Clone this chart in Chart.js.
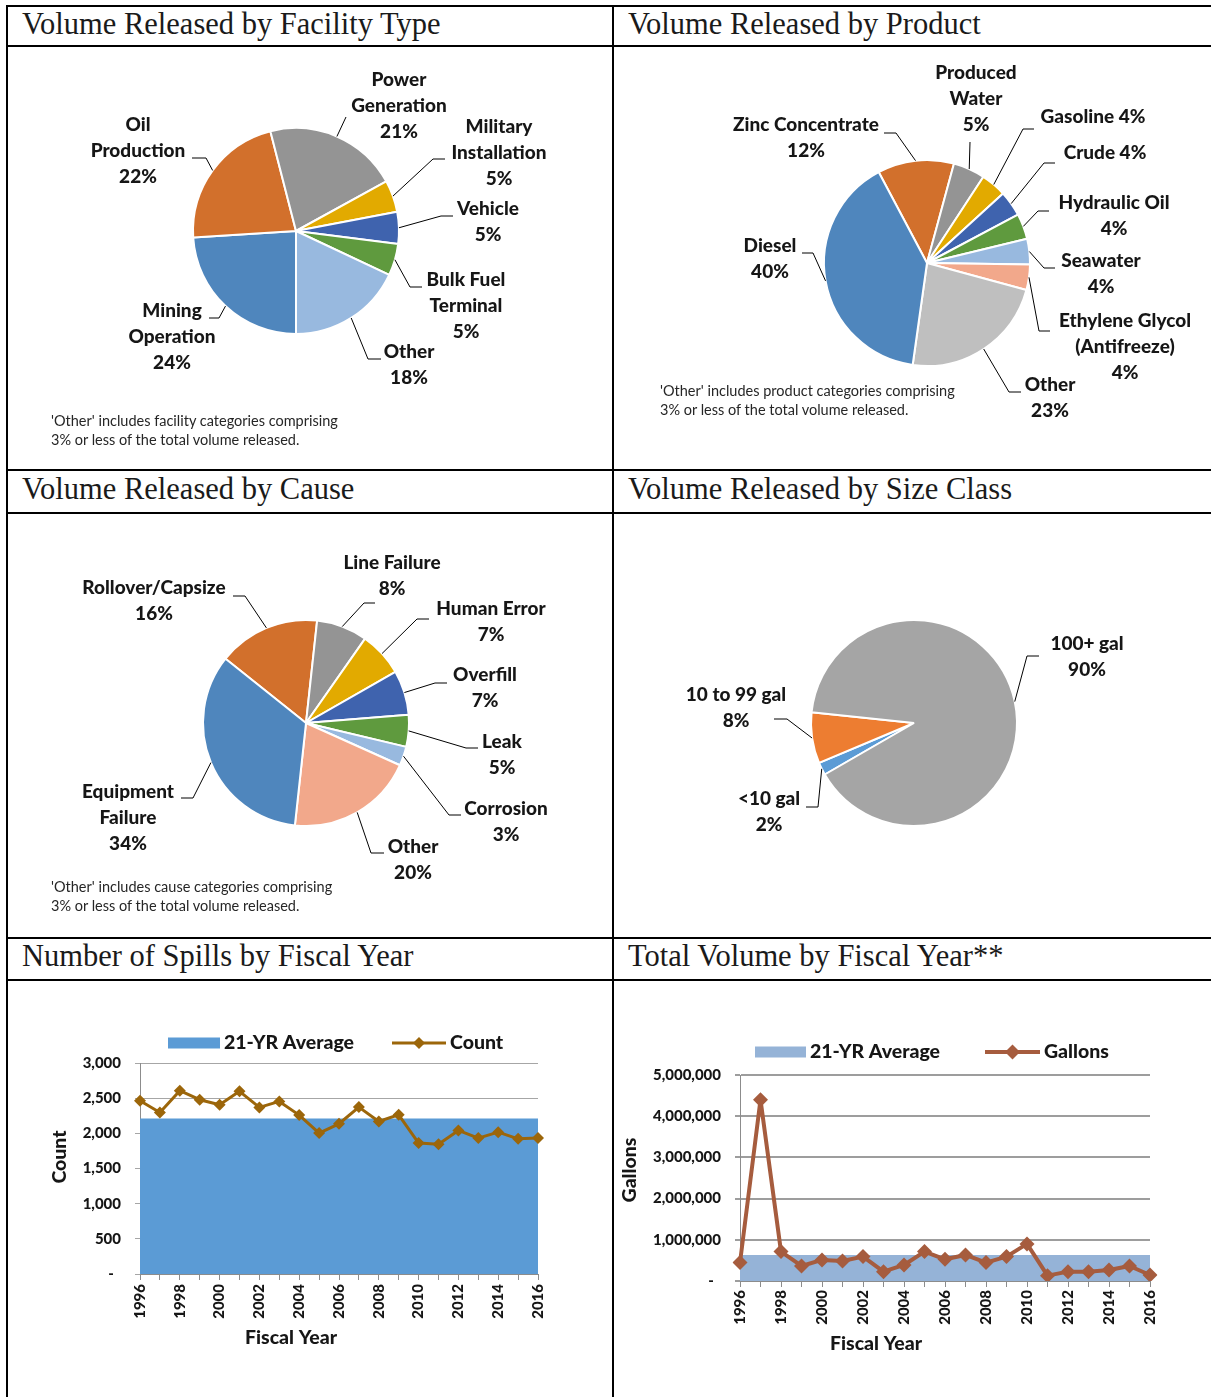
<!DOCTYPE html>
<html>
<head>
<meta charset="utf-8">
<title>Spill Summary Charts</title>
<script src="https://cdn.jsdelivr.net/npm/chart.js@4.4.1/dist/chart.umd.min.js"></script>
<style>
html,body{margin:0;padding:0;background:#fff;}
body{position:relative;width:1211px;height:1397px;overflow:hidden;}
.ln{position:absolute;background:#000;z-index:3;}
.ttl{position:absolute;font-family:'Liberation Serif',serif;font-size:30.5px;line-height:30px;color:#1a1a1a;white-space:nowrap;}
.note{position:absolute;font-family:Lato,sans-serif;font-size:14.5px;line-height:19px;color:#262626;white-space:nowrap;z-index:2;}
canvas{position:absolute;}
</style>
</head>
<body>
<canvas id="pieFacility" style="left:8px;top:47px" width="604" height="422"></canvas>
<canvas id="pieProduct" style="left:614px;top:47px" width="597" height="422"></canvas>
<canvas id="pieCause" style="left:8px;top:514px" width="604" height="423"></canvas>
<canvas id="pieSize" style="left:614px;top:514px" width="597" height="423"></canvas>
<canvas id="lineSpills" style="left:8px;top:981px" width="604" height="416"></canvas>
<canvas id="lineVolume" style="left:614px;top:981px" width="597" height="416"></canvas>

<div class="ln" style="left:6px;top:5px;width:1205px;height:2px"></div>
<div class="ln" style="left:6px;top:5px;width:2px;height:1392px"></div>
<div class="ln" style="left:612px;top:5px;width:2px;height:1392px"></div>
<div class="ln" style="left:6px;top:45px;width:1205px;height:2px"></div>
<div class="ln" style="left:6px;top:469px;width:1205px;height:2px"></div>
<div class="ln" style="left:6px;top:512px;width:1205px;height:2px"></div>
<div class="ln" style="left:6px;top:937px;width:1205px;height:2px"></div>
<div class="ln" style="left:6px;top:979px;width:1205px;height:2px"></div>

<div class="ttl" style="left:22px;top:9px">Volume Released by Facility Type</div>
<div class="ttl" style="left:628px;top:9px">Volume Released by Product</div>
<div class="ttl" style="left:22px;top:474px">Volume Released by Cause</div>
<div class="ttl" style="left:628px;top:474px">Volume Released by Size Class</div>
<div class="ttl" style="left:22px;top:941px">Number of Spills by Fiscal Year</div>
<div class="ttl" style="left:628px;top:941px">Total Volume by Fiscal Year**</div>

<div class="note" style="left:51px;top:411px">'Other' includes facility categories comprising<br>3% or less of the total volume released.</div>
<div class="note" style="left:660px;top:381px">'Other' includes product categories comprising<br>3% or less of the total volume released.</div>
<div class="note" style="left:51px;top:877px">'Other' includes cause categories comprising<br>3% or less of the total volume released.</div>

<script>
// ---------------- DATA ----------------
const facilityCategories = [['Mining','Operation'], ['Oil','Production'], ['Power','Generation'], ['Military','Installation'], 'Vehicle', ['Bulk Fuel','Terminal'], 'Other'];
const facilityShares = [24, 22, 21, 5, 5, 5, 18];

const productCategories = ['Zinc Concentrate', ['Produced','Water'], 'Gasoline', 'Crude', 'Hydraulic Oil', 'Seawater', ['Ethylene Glycol','(Antifreeze)'], 'Other', 'Diesel'];
const productShares = [12, 5, 4, 4, 4, 4, 4, 23, 40];

const causeCategories = ['Rollover/Capsize', 'Line Failure', 'Human Error', 'Overfill', 'Leak', 'Corrosion', 'Other', ['Equipment','Failure']];
const causeShares = [16, 8, 7, 7, 5, 3, 20, 34];

const sizeCategories = ['<10 gal', '10 to 99 gal', '100+ gal'];
const sizeShares = [2, 8, 90];

const fiscalYears = ['1996','1997','1998','1999','2000','2001','2002','2003','2004','2005','2006','2007','2008','2009','2010','2011','2012','2013','2014','2015','2016'];
const spillCounts = [2463, 2297, 2606, 2478, 2407, 2597, 2369, 2454, 2259, 2003, 2136, 2373, 2169, 2264, 1861, 1846, 2041, 1932, 2017, 1922, 1932];
const spillAverage = [2211, 2211, 2211, 2211, 2211, 2211, 2211, 2211, 2211, 2211, 2211, 2211, 2211, 2211, 2211, 2211, 2211, 2211, 2211, 2211, 2211];
const volumeGallons = [446000, 4400000, 713000, 365000, 511000, 486000, 592000, 227000, 389000, 713000, 527000, 632000, 446000, 592000, 900000, 130000, 227000, 227000, 267000, 365000, 146000];
const volumeAverage = [633000, 633000, 633000, 633000, 633000, 633000, 633000, 633000, 633000, 633000, 633000, 633000, 633000, 633000, 633000, 633000, 633000, 633000, 633000, 633000, 633000];

// ---------------- STYLE ----------------
const C = {blue:'#4F86BD', orange:'#D2702C', grey:'#949494', yellow:'#E2AA00', navy:'#3F63AE', green:'#5F9A3E', sky:'#98B9DF', salmon:'#F2A88B', lgrey:'#BFBFBF'};
const facilityColors = [C.blue, C.orange, C.grey, C.yellow, C.navy, C.green, C.sky];
const productColors = [C.orange, C.grey, C.yellow, C.navy, C.green, C.sky, C.salmon, C.lgrey, C.blue];
const causeColors = [C.orange, C.grey, C.yellow, C.navy, C.green, C.sky, C.salmon, C.blue];
const sizeColors = ['#5B9BD5', '#ED7D31', '#A5A5A5'];

Chart.defaults.font.family = 'Lato';
Chart.defaults.color = '#1a1a1a';
Chart.defaults.animation = false;

const TEXT_COLOR = '#161616';
const LABEL_FONT = '900 19px Lato';
const AXIS_FONT = '900 19.5px Lato';

// Label layout (text centre and leader bend points, relative to pie centre)
const facilityLabelLayout = [
  {text:[-124, 80], lead:[[-77, 87], [-87, 87]]},
  {text:[-158, -106], lead:[[-90, -73], [-104, -73]]},
  {text:[103, -151], lead:[[50, -114]]},
  {text:[203, -104], lead:[[137, -72], [149, -72]]},
  {text:[192, -22], lead:[[145, -15], [157, -15]]},
  {text:[170, 49], lead:[[114, 56], [126, 56]]},
  {text:[113, 121], lead:[[72, 128], [85, 128]]}
];
const productLabelLayout = [
  {text:[-121, -138], lead:[[-31, -130], [-43, -130]]},
  {text:[49, -190], lead:[[43, -121]]},
  {text:[166, -146], lead:[[96, -134], [107, -134]], inline:true},
  {text:[178, -110], lead:[[117, -100], [128, -100]], inline:true},
  {text:[187, -60], lead:[[111, -52], [122, -52]]},
  {text:[174, -2], lead:[[117, 5], [128, 5]]},
  {text:[198, 58], lead:[[112, 68], [123, 68]]},
  {text:[123, 122], lead:[[82, 129], [94, 129]]},
  {text:[-157, -17], lead:[[-114, -10], [-125, -10]]}
];
const causeLabelLayout = [
  {text:[-152, -135], lead:[[-61, -127], [-73, -127]]},
  {text:[86, -160], lead:[[58, -120], [69, -120]]},
  {text:[185, -114], lead:[[111, -104], [123, -104]]},
  {text:[179, -48], lead:[[129, -40], [141, -40]]},
  {text:[196, 19], lead:[[160, 25], [172, 25]]},
  {text:[200, 86], lead:[[143, 92], [155, 92]]},
  {text:[107, 124], lead:[[65, 130], [78, 130]]},
  {text:[-178, 69], lead:[[-113, 75], [-125, 75]]}
];
const sizeLabelLayout = [
  {text:[-145, 76], lead:[[-96, 84], [-108, 84]]},
  {text:[-178, -28], lead:[[-127, -4], [-140, -4]]},
  {text:[173, -79], lead:[[113, -67], [125, -67]]}
];

const pieLabels = {
  id: 'pieLabels',
  afterDatasetsDraw(chart, args, opts) {
    const ctx = chart.ctx;
    const ds = chart.data.datasets[0];
    const total = ds.data.reduce((a, b) => a + b, 0);
    const meta = chart.getDatasetMeta(0);
    ctx.save();
    meta.data.forEach((arc, i) => {
      const cfg = opts.items[i];
      if (!cfg) return;
      const cx = arc.x, cy = arc.y;
      const mid = (arc.startAngle + arc.endAngle) / 2;
      const ex = cx + Math.cos(mid) * arc.outerRadius;
      const ey = cy + Math.sin(mid) * arc.outerRadius;
      ctx.beginPath();
      ctx.moveTo(ex, ey);
      cfg.lead.forEach(p => ctx.lineTo(cx + p[0], cy + p[1]));
      ctx.strokeStyle = '#000';
      ctx.lineWidth = 1;
      ctx.stroke();
      const lbl = chart.data.labels[i];
      const lines = Array.isArray(lbl) ? lbl.slice() : [lbl];
      const pct = Math.round(ds.data[i] / total * 100) + '%';
      if (cfg.inline) lines[lines.length - 1] += ' ' + pct; else lines.push(pct);
      ctx.font = LABEL_FONT;
      ctx.fillStyle = TEXT_COLOR;
      ctx.textAlign = 'center';
      ctx.textBaseline = 'middle';
      lines.forEach((t, k) => ctx.fillText(t, cx + cfg.text[0], cy + cfg.text[1] + k * opts.lineHeight));
    });
    ctx.restore();
  }
};

function makePie(id, categories, values, colors, rotation, center, radius, layout) {
  const cv = document.getElementById(id);
  const side = radius * 2 + 2;
  const cx = center[0] - parseFloat(cv.style.left);
  const cy = center[1] - parseFloat(cv.style.top);
  const padding = {left: cx - side / 2, right: cv.width - cx - side / 2, top: cy - side / 2, bottom: cv.height - cy - side / 2};
  return new Chart(cv, {
    type: 'pie',
    data: {labels: categories, datasets: [{data: values, backgroundColor: colors, borderColor: '#ffffff', borderWidth: 2}]},
    options: {
      responsive: false, animation: false, rotation: rotation,
      layout: {padding: padding},
      plugins: {legend: {display: false}, tooltip: {enabled: false}, pieLabels: {items: layout, lineHeight: 26}}
    },
    plugins: [pieLabels]
  });
}

makePie('pieFacility', facilityCategories, facilityShares, facilityColors, 180, [296, 231], 103, facilityLabelLayout);
makePie('pieProduct', productCategories, productShares, productColors, -28, [927, 263], 103, productLabelLayout);
makePie('pieCause', causeCategories, causeShares, causeColors, -51.4, [306, 723], 103, causeLabelLayout);
makePie('pieSize', sizeCategories, sizeShares, sizeColors, 240, [914, 723], 103, sizeLabelLayout);

// --------- line chart decorations: axis titles + legend ---------
const decor = {
  id: 'decor',
  afterDraw(chart, args, o) {
    const ca = chart.chartArea, ctx = chart.ctx;
    ctx.save();
    ctx.font = AXIS_FONT;
    ctx.fillStyle = TEXT_COLOR;
    ctx.textAlign = 'center';
    ctx.textBaseline = 'middle';
    ctx.fillText(o.xTitle.text, ca.left + o.xTitle.dx, ca.bottom + o.xTitle.dy);
    ctx.save();
    ctx.translate(ca.left + o.yTitle.dx, ca.top + o.yTitle.dy);
    ctx.rotate(-Math.PI / 2);
    ctx.fillText(o.yTitle.text, 0, 0);
    ctx.restore();
    const dss = chart.data.datasets;
    o.legend.forEach(item => {
      const d = dss[item.index];
      const lx = ca.left + item.dx, ly = ca.top + item.dy;
      if (item.kind === 'box') {
        ctx.fillStyle = d.backgroundColor;
        ctx.fillRect(lx, ly - 5.5, item.w, 11);
      } else {
        ctx.strokeStyle = d.borderColor;
        ctx.lineWidth = d.borderWidth;
        ctx.beginPath(); ctx.moveTo(lx, ly); ctx.lineTo(lx + item.w, ly); ctx.stroke();
        const r = d.pointRadius, mx = lx + item.w / 2;
        ctx.fillStyle = d.pointBackgroundColor;
        ctx.beginPath(); ctx.moveTo(mx - r, ly); ctx.lineTo(mx, ly - r); ctx.lineTo(mx + r, ly); ctx.lineTo(mx, ly + r); ctx.closePath(); ctx.fill();
      }
      ctx.fillStyle = TEXT_COLOR;
      ctx.textAlign = 'left';
      ctx.font = AXIS_FONT;
      ctx.fillText(d.label, lx + item.w + 4, ly);
    });
    ctx.restore();
  }
};

function yearTick(v, i) { return i % 2 === 0 ? fiscalYears[i] : ''; }
const tickFont = {weight: '900', size: 15};

new Chart(document.getElementById('lineSpills'), {
  type: 'line',
  data: {
    labels: fiscalYears,
    datasets: [
      {label: '21-YR Average', data: spillAverage, fill: 'origin', backgroundColor: '#5B9BD5', borderColor: 'rgba(0,0,0,0)', borderWidth: 0, pointRadius: 0, order: 2},
      {label: 'Count', data: spillCounts, fill: false, borderColor: '#9C660A', backgroundColor: '#9C660A', borderWidth: 3, borderJoinStyle: 'round', pointStyle: 'rectRot', pointRadius: 6, pointBorderWidth: 0, pointBackgroundColor: '#9C660A', order: 1}
    ]
  },
  options: {
    responsive: false, animation: false,
    layout: {padding: {left: 0, right: 74, top: 82, bottom: 0}},
    plugins: {legend: {display: false}, tooltip: {enabled: false},
      decor: {xTitle: {text: 'Fiscal Year', dx: 151, dy: 64}, yTitle: {text: 'Count', dx: -80, dy: 94},
        legend: [{index: 0, kind: 'box', dx: 28, dy: -20, w: 52}, {index: 1, kind: 'line', dx: 252, dy: -20, w: 54}]}},
    scales: {
      x: {grid: {drawOnChartArea: false, color: '#8C8C8C', tickLength: 6}, border: {color: '#8C8C8C'},
        ticks: {autoSkip: false, minRotation: 90, maxRotation: 90, padding: 4, font: tickFont, color: TEXT_COLOR, callback: yearTick},
        afterFit(s) { s.height = 123; }},
      y: {min: 0, max: 3000, grid: {color: '#A6A6A6', tickLength: 5}, border: {color: '#8C8C8C'},
        ticks: {stepSize: 500, padding: 14, font: tickFont, color: TEXT_COLOR, callback(v) { return v === 0 ? '-  ' : v.toLocaleString('en-US'); }},
        afterFit(s) { s.width = 132; }}
    }
  },
  plugins: [decor]
});

new Chart(document.getElementById('lineVolume'), {
  type: 'line',
  data: {
    labels: fiscalYears,
    datasets: [
      {label: '21-YR Average', data: volumeAverage, fill: 'origin', backgroundColor: '#95B3D7', borderColor: 'rgba(0,0,0,0)', borderWidth: 0, pointRadius: 0, order: 2},
      {label: 'Gallons', data: volumeGallons, fill: false, borderColor: '#A65C3E', backgroundColor: '#A65C3E', borderWidth: 4, borderJoinStyle: 'round', pointStyle: 'rectRot', pointRadius: 7.5, pointBorderWidth: 0, pointBackgroundColor: '#A65C3E', order: 1}
    ]
  },
  options: {
    responsive: false, animation: false,
    layout: {padding: {left: 0, right: 61, top: 94, bottom: 0}},
    plugins: {legend: {display: false}, tooltip: {enabled: false},
      decor: {xTitle: {text: 'Fiscal Year', dx: 136, dy: 63}, yTitle: {text: 'Gallons', dx: -110, dy: 95},
        legend: [{index: 0, kind: 'box', dx: 15, dy: -23, w: 51}, {index: 1, kind: 'line', dx: 245, dy: -23, w: 55}]}},
    scales: {
      x: {grid: {drawOnChartArea: false, color: '#8C8C8C', tickLength: 6}, border: {color: '#8C8C8C'},
        ticks: {autoSkip: false, minRotation: 90, maxRotation: 90, padding: 3, font: tickFont, color: TEXT_COLOR, callback: yearTick},
        afterFit(s) { s.height = 116; }},
      y: {min: 0, max: 5000000, grid: {color: '#9D9D9D', lineWidth: 2, tickLength: 5}, border: {color: '#8C8C8C'},
        ticks: {stepSize: 1000000, padding: 14, font: tickFont, color: TEXT_COLOR, callback(v) { return v === 0 ? '-  ' : v.toLocaleString('en-US'); }},
        afterFit(s) { s.width = 126; }}
    }
  },
  plugins: [decor]
});
</script>
</body>
</html>
